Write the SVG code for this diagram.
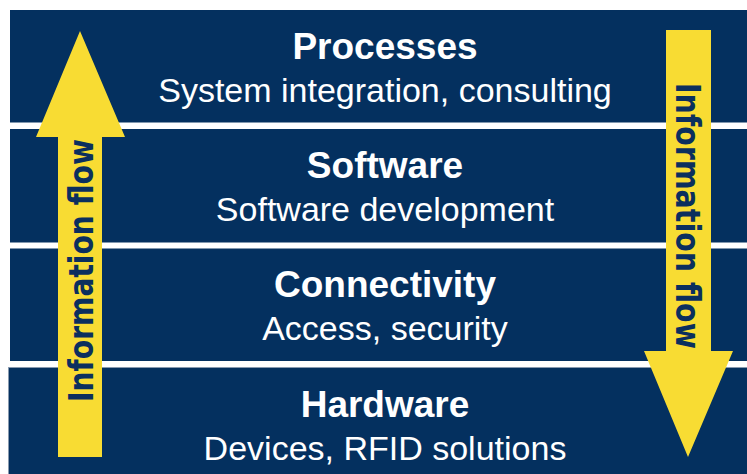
<svg xmlns="http://www.w3.org/2000/svg" width="747" height="474" viewBox="0 0 747 474">
  <style>
    .band { fill: #04305F; }
    .title { font-family: "Liberation Sans", Arial, sans-serif; font-weight: bold; font-size: 37px; fill: #FFFFFF; text-anchor: middle; }
    .sub { font-family: "Liberation Sans", Arial, sans-serif; font-size: 34px; fill: #FFFFFF; text-anchor: middle; }
    .arrow { fill: #F8DC33; }
    .flow { font-family: "DejaVu Sans", Verdana, sans-serif; font-weight: bold; font-size: 33px; fill: #0B2F5E; }
  </style>
  <rect width="747" height="474" fill="#FFFFFF"/>

  <!-- layer bands, top to bottom -->
  <g id="processes">
    <rect class="band" x="10" y="10" width="737" height="112.5"/>
    <text class="title" x="385" y="59">Processes</text>
    <text class="sub" x="385" y="102">System integration, consulting</text>
  </g>
  <g id="software">
    <rect class="band" x="10" y="129" width="737" height="113.5"/>
    <text class="title" x="385" y="178">Software</text>
    <text class="sub" x="385" y="221">Software development</text>
  </g>
  <g id="connectivity">
    <rect class="band" x="10" y="248.5" width="737" height="112.5"/>
    <text class="title" x="385" y="297">Connectivity</text>
    <text class="sub" x="385" y="340">Access, security</text>
  </g>
  <g id="hardware">
    <rect class="band" x="8.5" y="367.5" width="740" height="108" stroke="#8A9BB0" stroke-width="0.8"/>
    <text class="title" x="385" y="416.5">Hardware</text>
    <text class="sub" x="385" y="460">Devices, RFID solutions</text>
  </g>

  <!-- information flow arrows -->
  <g id="connectors">
    <g id="flow-up">
      <polygon class="arrow" points="80,31 125,137 102,137 102,457 58,457 58,137 36,137"/>
      <text class="flow" transform="translate(93,402) rotate(-90)" textLength="263" lengthAdjust="spacingAndGlyphs">Information flow</text>
    </g>
    <g id="flow-down">
      <polygon class="arrow" points="666,30 711,30 711,351 733,351 688,457 644,351 666,351"/>
      <text class="flow" transform="translate(676,83) rotate(90)" textLength="266" lengthAdjust="spacingAndGlyphs">Information flow</text>
    </g>
  </g>
</svg>
